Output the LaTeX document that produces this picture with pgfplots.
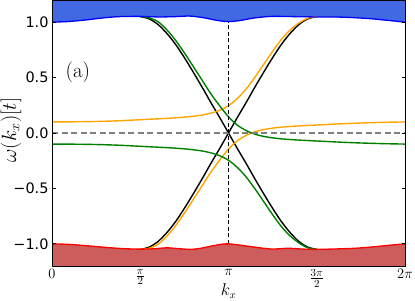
\documentclass[border=0pt]{standalone}
\usepackage{fontspec}
\usepackage{pgfplots}
\pgfplotsset{compat=1.18}
\usepgfplotslibrary{fillbetween}
\newfontfamily\dejavu{DejaVu Sans}
\definecolor{royal}{HTML}{4169E1}
\definecolor{indred}{HTML}{CD5C5C}
\definecolor{mplorange}{HTML}{FFA500}
\definecolor{mplgreen}{HTML}{008000}
\begin{document}
\begin{tikzpicture}
\begin{axis}[
  at={(0,0)}, anchor=south west,
  scale only axis, width=353bp, height=266bp,
  xmin=0, xmax=6.28319, ymin=-1.2, ymax=1.2,
  axis on top,
  axis line style={line width=0.9bp, black},
  tick align=inside,
  major tick length=3.5bp,
  tick style={line width=0.8bp, black},
  xtick={0,1.5708,3.14159,4.71239,6.28319},
  xticklabels={$0$,$\frac{\pi}{2}$,$\pi$,$\frac{3\pi}{2}$,$2\pi$},
  xtick style={draw=none},
  xticklabel style={font=\fontsize{15.5}{16}\selectfont},
  ytick={-1,-0.5,0,0.5,1},
  yticklabels={−1.0,−0.5,0.0,0.5,1.0},
  yticklabel style={font=\dejavu\fontsize{14.5}{16}\selectfont},
  xlabel={$k_x$},
  xlabel style={at={(axis description cs:0.5,0)}, anchor=center, yshift=-25bp, font=\fontsize{16}{16}\selectfont},
  ylabel={$\omega(k_x)[t]$},
  ylabel style={at={(axis description cs:-0.116,0.511)}, anchor=center, font=\fontsize{20}{20}\selectfont},
]
% black curves
\addplot[black, line width=1.4bp, smooth] coordinates {
(1.5708,1.05) (1.7279,1.03) (1.8850,0.98) (2.0420,0.90) (2.1991,0.80) (2.3562,0.68)
(2.5133,0.55) (2.6704,0.415) (2.8274,0.275) (2.9845,0.14) (3.1416,0) (3.2987,-0.14)
(3.4558,-0.275) (3.6128,-0.415) (3.7699,-0.55) (3.9270,-0.68) (4.0841,-0.80)
(4.2412,-0.90) (4.3982,-0.98) (4.5553,-1.03) (4.7124,-1.05)};
\addplot[black, line width=1.4bp, smooth] coordinates {
(1.5708,-1.05) (1.7279,-1.03) (1.8850,-0.98) (2.0420,-0.90) (2.1991,-0.80) (2.3562,-0.68)
(2.5133,-0.55) (2.6704,-0.415) (2.8274,-0.275) (2.9845,-0.14) (3.1416,0) (3.2987,0.14)
(3.4558,0.275) (3.6128,0.415) (3.7699,0.55) (3.9270,0.68) (4.0841,0.80)
(4.2412,0.90) (4.3982,0.98) (4.5553,1.03) (4.7124,1.05)};
% orange curves
\addplot[mplorange, line width=1.4bp, smooth] coordinates {
(0,0.100) (0.3927,0.101) (0.7854,0.104) (1.1781,0.110) (1.5708,0.120) (1.7279,0.124)
(1.8850,0.128) (2.0420,0.132) (2.1991,0.137) (2.3562,0.143) (2.5133,0.151) (2.6704,0.162)
(2.8274,0.179) (2.9845,0.205) (3.1416,0.246) (3.2987,0.311) (3.4558,0.397) (3.6128,0.504)
(3.7699,0.620) (3.9270,0.737) (4.0841,0.845) (4.2412,0.930) (4.3982,0.993) (4.5553,1.036)
(4.7124,1.050)};
\addplot[mplorange, line width=1.4bp, smooth] coordinates {
(1.5708,-1.050) (1.7279,-1.040) (1.8850,-1.005) (2.0420,-0.932) (2.1991,-0.837) (2.3562,-0.723)
(2.5133,-0.601) (2.6704,-0.477) (2.8274,-0.354) (2.9845,-0.245) (3.1416,-0.146) (3.2987,-0.071)
(3.4558,-0.022) (3.6128,0.011) (3.7699,0.031) (3.9270,0.044) (4.0841,0.053) (4.2412,0.059)
(4.3982,0.064) (4.5553,0.068) (4.7124,0.072) (5.1051,0.082) (5.4978,0.090) (5.8905,0.096)
(6.2832,0.100)};
% green curves
\addplot[mplgreen, line width=1.4bp, smooth] coordinates {
(0,-0.100) (0.3927,-0.101) (0.7854,-0.104) (1.1781,-0.110) (1.5708,-0.120) (1.7279,-0.124)
(1.8850,-0.128) (2.0420,-0.132) (2.1991,-0.137) (2.3562,-0.143) (2.5133,-0.151) (2.6704,-0.162)
(2.8274,-0.179) (2.9845,-0.205) (3.1416,-0.246) (3.2987,-0.311) (3.4558,-0.397) (3.6128,-0.504)
(3.7699,-0.620) (3.9270,-0.737) (4.0841,-0.845) (4.2412,-0.930) (4.3982,-0.993) (4.5553,-1.036)
(4.7124,-1.050)};
\addplot[mplgreen, line width=1.4bp, smooth] coordinates {
(1.5708,1.050) (1.7279,1.040) (1.8850,1.005) (2.0420,0.932) (2.1991,0.837) (2.3562,0.723)
(2.5133,0.601) (2.6704,0.477) (2.8274,0.354) (2.9845,0.245) (3.1416,0.146) (3.2987,0.071)
(3.4558,0.022) (3.6128,-0.011) (3.7699,-0.031) (3.9270,-0.044) (4.0841,-0.053) (4.2412,-0.059)
(4.3982,-0.064) (4.5553,-0.068) (4.7124,-0.072) (5.1051,-0.082) (5.4978,-0.090) (5.8905,-0.096)
(6.2832,-0.100)};
% dashed lines
\addplot[gray, line width=1.8bp, dash pattern=on 6bp off 3.5bp] coordinates {(0,0) (6.28319,0)};
\addplot[black, line width=1.2bp, dash pattern=on 4bp off 2.5bp] coordinates {(3.14159,-1) (3.14159,1)};
% top band
\addplot[name path=bedge, blue, line width=1.3bp, smooth] coordinates {
(0,1.000) (0.3,1.006) (0.6,1.020) (0.9,1.038) (1.2,1.050) (1.57,1.052) (1.9,1.047)
(2.2,1.050) (2.45,1.055) (2.7,1.040) (2.95,1.015) (3.1416,1.005) (3.35,1.015) (3.6,1.038)
(3.9,1.052) (4.3,1.050) (4.71,1.047) (5.1,1.046) (5.4,1.040) (5.7,1.030) (6.0,1.015) (6.2832,1.000)};
\addplot[name path=btop, draw=none] coordinates {(0,1.2) (6.28319,1.2)};
\addplot[royal] fill between[of=bedge and btop];
% bottom band
\addplot[name path=redge, red, line width=1.3bp, smooth] coordinates {
(0,-1.000) (0.3,-1.005) (0.55,-1.014) (0.8,-1.025) (1.03,-1.035) (1.3,-1.044) (1.57,-1.048)
(1.8,-1.045) (2.04,-1.036) (2.25,-1.043) (2.46,-1.050) (2.65,-1.040) (2.81,-1.023) (3.0,-1.005)
(3.1416,-1.000) (3.35,-1.012) (3.61,-1.030) (3.91,-1.047) (4.2,-1.040) (4.45,-1.047) (4.68,-1.050)
(5.0,-1.047) (5.39,-1.040) (5.7,-1.028) (5.98,-1.014) (6.2832,-1.000)};
\addplot[name path=rbot, draw=none] coordinates {(0,-1.2) (6.28319,-1.2)};
\addplot[indred] fill between[of=redge and rbot];
\node at (axis cs:0.46,0.55) {\fontsize{21}{21}\selectfont (a)};
\end{axis}
\pgfresetboundingbox
\path (-52bp,-35bp) rectangle (363bp,266bp);
\end{tikzpicture}
\end{document}
